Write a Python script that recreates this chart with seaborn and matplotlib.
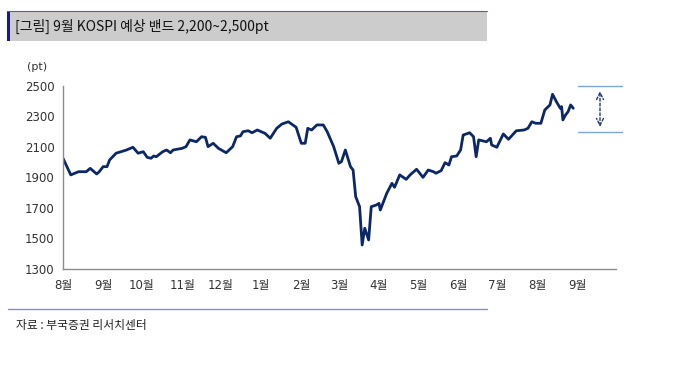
import matplotlib
matplotlib.use("Agg")
import matplotlib.pyplot as plt
import matplotlib.transforms as mtransforms
from matplotlib.patches import Rectangle
from matplotlib.lines import Line2D
import pandas as pd
import seaborn as sns

sns.set_style("white")
plt.rcParams['font.family'] = ['Noto Sans CJK KR', 'DejaVu Sans']

title = "[그림] 9월 KOSPI 예상 밴드 2,200~2,500pt"
source = "자료 : 부국증권 리서치센터"
unit_label = "(pt)"

dates = [
    "2019-08-01", "2019-08-07", "2019-08-13", "2019-08-19", "2019-08-22", "2019-08-27", "2019-08-29",
    "2019-09-01", "2019-09-04", "2019-09-06", "2019-09-11", "2019-09-19", "2019-09-24", "2019-09-28",
    "2019-10-02", "2019-10-05", "2019-10-08", "2019-10-10", "2019-10-12", "2019-10-17", "2019-10-20",
    "2019-10-23", "2019-10-25", "2019-11-01", "2019-11-04", "2019-11-07", "2019-11-12", "2019-11-16",
    "2019-11-19", "2019-11-21", "2019-11-25", "2019-11-29", "2019-12-05", "2019-12-10", "2019-12-13",
    "2019-12-16", "2019-12-18", "2019-12-22", "2019-12-25", "2019-12-29", "2020-01-04", "2020-01-08",
    "2020-01-13", "2020-01-17", "2020-01-22", "2020-01-28", "2020-02-01", "2020-02-04", "2020-02-06",
    "2020-02-09", "2020-02-13", "2020-02-18", "2020-02-21", "2020-02-26", "2020-03-01", "2020-03-03",
    "2020-03-06", "2020-03-10", "2020-03-12", "2020-03-14", "2020-03-17", "2020-03-19", "2020-03-21",
    "2020-03-24", "2020-03-26", "2020-03-30", "2020-04-01", "2020-04-02", "2020-04-07", "2020-04-11",
    "2020-04-13", "2020-04-17", "2020-04-22", "2020-04-25", "2020-04-30", "2020-05-05", "2020-05-09",
    "2020-05-13", "2020-05-15", "2020-05-19", "2020-05-22", "2020-05-25", "2020-05-27", "2020-05-31",
    "2020-06-03", "2020-06-05", "2020-06-10", "2020-06-13", "2020-06-15", "2020-06-17", "2020-06-23",
    "2020-06-26", "2020-06-27", "2020-07-01", "2020-07-06", "2020-07-10", "2020-07-16", "2020-07-22",
    "2020-07-25", "2020-07-28", "2020-07-31", "2020-08-04", "2020-08-07", "2020-08-11", "2020-08-13",
    "2020-08-16", "2020-08-19", "2020-08-20", "2020-08-21", "2020-08-23", "2020-08-25", "2020-08-27",
    "2020-08-29",
]
kospi = [
    2025, 1916, 1937, 1937, 1959, 1922, 1937,
    1970, 1970, 2014, 2058, 2079, 2097, 2058,
    2068, 2031, 2025, 2040, 2035, 2068, 2079,
    2061, 2079, 2090, 2101, 2145, 2133, 2166,
    2162, 2101, 2123, 2090, 2061, 2101, 2166,
    2171, 2199, 2205, 2192, 2210, 2188, 2156,
    2221, 2249, 2264, 2228, 2123, 2123, 2221,
    2210, 2243, 2243, 2199, 2101, 1992, 2003,
    2079, 1970, 1948, 1774, 1708, 1457, 1567,
    1490, 1708, 1719, 1730, 1686, 1796, 1861,
    1835, 1916, 1887, 1916, 1953, 1900, 1948,
    1937, 1927, 1944, 1996, 1981, 2035, 2040,
    2079, 2177, 2192, 2166, 2035, 2145, 2133,
    2156, 2112, 2097, 2184, 2149, 2205, 2210,
    2221, 2264, 2254, 2254, 2341, 2374, 2444,
    2395, 2352, 2363, 2276, 2308, 2330, 2374,
    2352,
]

month_ticks = pd.date_range("2019-08-01", "2020-10-01", freq="MS")
month_labels = ["8월", "9월", "10월", "11월", "12월", "1월", "2월", "3월",
                "4월", "5월", "6월", "7월", "8월", "9월", ""]
y_ticks = [1300, 1500, 1700, 1900, 2100, 2300, 2500]
band = [2200, 2500]

df = pd.DataFrame({"date": pd.to_datetime(dates), "kospi": kospi})

W, H = 680, 374
fig = plt.figure(figsize=(W / 100, H / 100), dpi=100)
ax = fig.add_axes([63 / W, 1 - 269 / H, (616 - 63) / W, (269 - 85.7) / H])

line_color = "#0c2766"
sns.lineplot(data=df, x="date", y="kospi", ax=ax, color=line_color, linewidth=2.0)

ax.set_xlim(month_ticks[0], month_ticks[-1])
ax.set_ylim(y_ticks[0], y_ticks[-1])
ax.set_xticks(month_ticks)
ax.set_xticklabels(month_labels)
ax.set_yticks(y_ticks)
ax.set_xlabel("")
ax.set_ylabel("")

tick_family = ['DejaVu Sans', 'Noto Sans CJK KR']
for lab in ax.get_xticklabels() + ax.get_yticklabels():
    lab.set_family(tick_family)

for side in ["top", "right"]:
    ax.spines[side].set_visible(False)
for side in ["left", "bottom"]:
    ax.spines[side].set_color("#8c8c8c")
    ax.spines[side].set_linewidth(1.0)
ax.tick_params(axis="both", direction="out", length=3, width=1.0, color="#8c8c8c",
               labelsize=8.5, labelcolor="#333333", pad=3)
ax.tick_params(axis="x", pad=4)

# expected band
trans = mtransforms.blended_transform_factory(ax.transAxes, ax.transData)
x0 = (578 - 63) / (616 - 63)
x1 = (622 - 63) / (616 - 63)
xm = (600 - 63) / (616 - 63)
for b in band:
    ax.add_line(Line2D([x0, x1], [b, b], transform=trans, color="#7fa6d9",
                       linewidth=1.0, clip_on=False))
ax.annotate("", xy=(xm, band[1] - 35), xytext=(xm, band[0] + 30),
            xycoords=trans, textcoords=trans, annotation_clip=False,
            arrowprops=dict(arrowstyle="<->,head_length=0.5,head_width=0.25",
                            linestyle=(0, (2, 1.5)), color="#1f3a78", linewidth=1.0,
                            shrinkA=0, shrinkB=0))

# unit label
fig.text(27 / W, 1 - 67 / H, unit_label, fontsize=8, color="#333333", va="center",
         ha="left", family=tick_family)

# title bar
fig.patches.append(Rectangle((7 / W, 1 - 41 / H), (487 - 7) / W, 30 / H,
                             transform=fig.transFigure, facecolor="#cccccc",
                             edgecolor="none", zorder=0))
fig.patches.append(Rectangle((7 / W, 1 - 41 / H), 3 / W, 30 / H,
                             transform=fig.transFigure, facecolor="#1a1a80",
                             edgecolor="none", zorder=1))
fig.lines.append(Line2D([7 / W, 487 / W], [1 - 11 / H, 1 - 11 / H],
                        transform=fig.transFigure, color="#5a5aa8", linewidth=0.8))
fig.text(15 / W, 1 - 26.5 / H, title, fontsize=10, color="#111111",
         va="center", ha="left")

# footer
fig.lines.append(Line2D([8 / W, 487 / W], [1 - 308.5 / H, 1 - 308.5 / H],
                        transform=fig.transFigure, color="#8a8ad0", linewidth=1.0))
fig.text(16 / W, 1 - 325 / H, source, fontsize=8.5, color="#222222",
         va="center", ha="left")

fig.savefig("out.png", dpi=100)
